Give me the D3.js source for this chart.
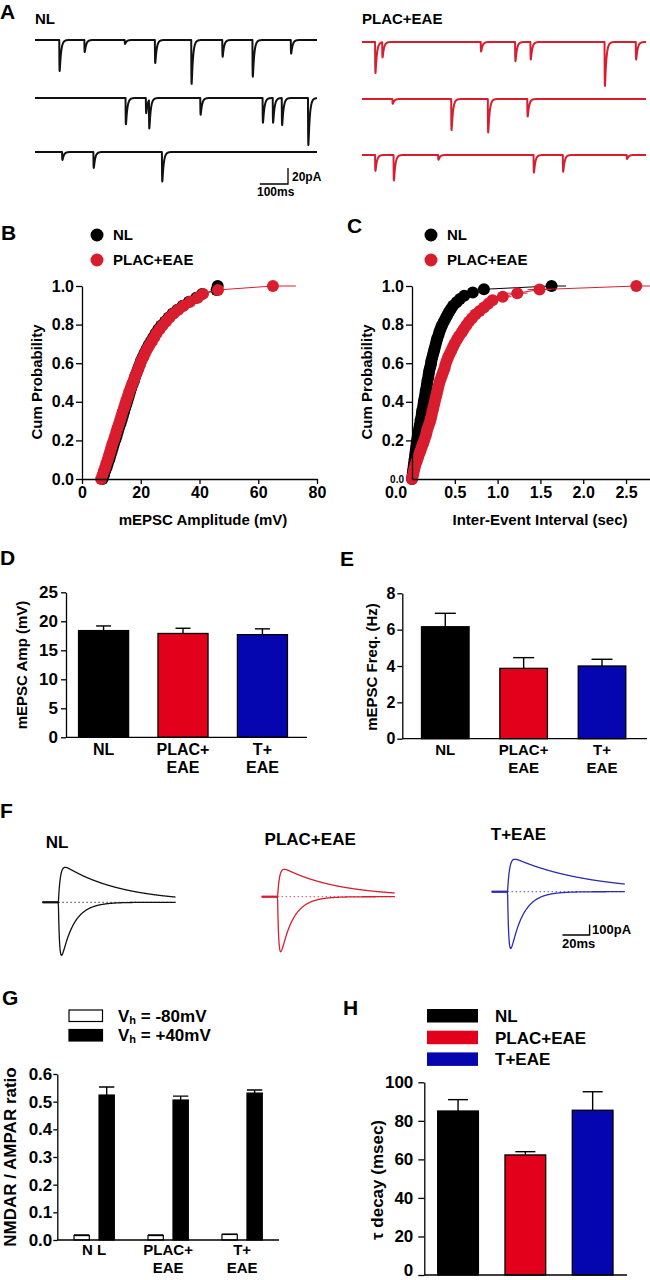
<!DOCTYPE html>
<html>
<head>
<meta charset="utf-8">
<script src="https://cdn.jsdelivr.net/npm/d3@7/dist/d3.min.js"></script>
<style>
  body { margin: 0; background: #fff; }
  text { font-family: "Liberation Sans", Arial, sans-serif; font-weight: bold; fill: #000; }
  .axis path, .axis line { stroke: #000; stroke-width: 1.3; }
  .axis text { font-family: "Liberation Sans", Arial, sans-serif; font-weight: bold; fill: #000; }
</style>
</head>
<body>
<script>
// ---------- data ----------
// A: mEPSC events in each sweep, [time (ms), amplitude (pA)]
const nlSweeps = [
  [[86, 39], [175, 15], [318, 5], [425, 29], [554, 55], [664, 21], [771, 46], [907, 17]],
  [[321, 33], [393, 19], [404, 36], [586, 21], [807, 31], [843, 31], [875, 34], [968, 59]],
  [[96, 10], [207, 20], [450, 37]]
];
const placSweeps = [
  [[46, 39], [71, 19], [418, 12], [539, 24], [593, 22], [854, 55], [964, 22]],
  [[107, 6], [314, 39], [443, 42], [582, 22]],
  [[46, 20], [111, 32], [268, 6], [604, 22], [707, 21], [932, 5]]
];

// B: sorted mEPSC amplitudes (mV)
const ampNL = [7.0, 7.5, 7.9, 8.4, 8.8, 9.3, 9.7, 10.1, 10.5, 10.9,
  11.4, 11.8, 12.2, 12.6, 13.1, 13.5, 13.9, 14.3, 14.7, 15.1,
  15.5, 15.9, 16.3, 16.7, 17.2, 17.7, 18.1, 18.6, 19.1, 19.6,
  20.1, 20.7, 21.3, 22.0, 22.7, 23.5, 24.3, 25.1, 26.0, 27.0,
  28.3, 29.5, 30.9, 32.5, 34.3, 36.4, 38.9, 40.9, 45.8, 46.2];
const ampPLAC = [6.5, 7.0, 7.4, 7.9, 8.3, 8.8, 9.2, 9.6, 10.0, 10.4,
  10.9, 11.3, 11.7, 12.1, 12.6, 13.0, 13.4, 13.8, 14.3, 14.7,
  15.1, 15.6, 16.0, 16.5, 17.0, 17.6, 18.1, 18.6, 19.2, 19.7,
  20.2, 20.9, 21.5, 22.2, 23.0, 23.8, 24.6, 25.4, 26.4, 27.4,
  28.6, 29.8, 31.2, 32.8, 34.6, 36.8, 39.4, 41.2, 46.3, 65.0];
const ampTailEnd = [47, 72.8];

// C: sorted inter-event intervals (sec)
const iviNL = [0.00, 0.005, 0.01, 0.015, 0.02, 0.025, 0.03, 0.035, 0.04, 0.045,
  0.05, 0.055, 0.06, 0.067, 0.074, 0.081, 0.088, 0.095, 0.10, 0.11,
  0.115, 0.12, 0.13, 0.135, 0.14, 0.15, 0.155, 0.16, 0.17, 0.175,
  0.18, 0.19, 0.195, 0.20, 0.21, 0.22, 0.225, 0.235, 0.245, 0.255,
  0.265, 0.275, 0.285, 0.295, 0.31, 0.32, 0.335, 0.35, 0.37, 0.39,
  0.41, 0.43, 0.455, 0.48, 0.52, 0.56, 0.61, 0.71, 0.84, 1.63];
const iviPLAC = [0.00, 0.01, 0.02, 0.03, 0.04, 0.055, 0.07, 0.085, 0.10, 0.115,
  0.13, 0.145, 0.16, 0.17, 0.18, 0.195, 0.21, 0.22, 0.23, 0.24,
  0.25, 0.26, 0.27, 0.28, 0.29, 0.30, 0.31, 0.32, 0.335, 0.35,
  0.365, 0.38, 0.39, 0.405, 0.42, 0.44, 0.46, 0.48, 0.50, 0.525,
  0.55, 0.58, 0.605, 0.635, 0.665, 0.70, 0.74, 0.79, 0.84, 0.89,
  0.94, 1.06, 1.23, 1.49, 2.62];
// horizontal SEM on some PLAC+EAE points, [index, sem (sec)]
const iviPlacErr = [[38, 0.03], [40, 0.04], [41, 0.04], [42, 0.05], [43, 0.05], [44, 0.05],
  [45, 0.06], [46, 0.06], [47, 0.06], [48, 0.07], [49, 0.07], [50, 0.08], [51, 0.1], [52, 0.12], [53, 0.14]];
const iviTailEnd = [1.8, 2.9];

// D, E, H: group means and SEM
const groups = ["NL", "PLAC+EAE", "T+EAE"];
const groupLabels = [["NL"], ["PLAC+", "EAE"], ["T+", "EAE"]];
const ampMean = [18.4, 17.9, 17.7];
const ampSem = [0.8, 0.9, 1.0];
const freqMean = [6.16, 3.87, 4.0];
const freqSem = [0.74, 0.59, 0.37];
const tauMean = [85.1, 62.3, 85.5];
const tauSem = [5.9, 1.7, 9.6];

// F: evoked currents (pA, ms)
const nmdaPeak = [333, 261, 309];
const ampaPeak = [505, 524, 540];
const nmdaTau = [42, 40, 55];
const ampaTau = [9, 9, 9];

// G: NMDAR / AMPAR ratio
const ratioLabels = [["N L"], ["PLAC+", "EAE"], ["T+", "EAE"]];
const ratioNeg80 = [0.016, 0.016, 0.020];
const ratioNeg80Sem = [0.002, 0.002, 0.001];
const ratioPos40 = [0.524, 0.506, 0.531];
const ratioPos40Sem = [0.029, 0.014, 0.011];

// ---------- drawing ----------
const groupColor = ["#000000", "#e2001a", "#0606b0"];
const traceColor = ["#111111", "#d81e2e", "#2b2bb5"];

const svg = d3.select("body").append("svg")
  .attr("width", 650).attr("height", 1280);

function label(txt, x, y, size, anchor) {
  return svg.append("text").attr("x", x).attr("y", y)
    .attr("font-size", size).attr("text-anchor", anchor || "start").text(txt);
}

// panel letters
[["A", 0, 19], ["B", 1, 240], ["C", 347, 233], ["D", 0, 565], ["E", 340, 566],
 ["F", 0, 818], ["G", 2, 1005], ["H", 343, 1015]].forEach(d => label(d[0], d[1], d[2], 21));

function psc(s, rise, decay) {
  return s < 0 ? 0 : (1 - Math.exp(-s / rise)) * Math.exp(-s / decay);
}
function pscPeak(rise, decay) {
  return psc(rise * Math.log(1 + decay / rise), rise, decay);
}

// ---- A: raw traces ----
label("NL", 35, 24, 15);
label("PLAC+EAE", 362, 24, 15);
const aAmp = d3.scaleLinear().domain([0, 20]).range([0, 16]);
const mPeak = pscPeak(0.6, 5);
function sweepLine(events, tScale, base, color) {
  const pts = d3.range(0, 1000.5, 0.5).map(t => {
    let v = 0;
    events.forEach(e => { v += e[1] * psc(t - e[0], 0.6, 5) / mPeak; });
    return [t, v];
  });
  svg.append("path").datum(pts)
    .attr("fill", "none").attr("stroke", color).attr("stroke-width", 2)
    .attr("stroke-linejoin", "round")
    .attr("d", d3.line().x(d => tScale(d[0])).y(d => base + aAmp(d[1])));
}
const tNL = d3.scaleLinear().domain([0, 1000]).range([35, 317]);
const tPL = d3.scaleLinear().domain([0, 1000]).range([362, 646]);
[40, 98, 152].forEach((b, i) => sweepLine(nlSweeps[i], tNL, b, traceColor[0]));
[42, 99, 155].forEach((b, i) => sweepLine(placSweeps[i], tPL, b, traceColor[1]));
// scale bar
{
  const xe = 288, ye = 184;
  const len = tNL(100) - tNL(0);
  svg.append("path").attr("fill", "none").attr("stroke", "#000").attr("stroke-width", 1.3)
    .attr("d", `M${xe - len},${ye}H${xe}V${ye - aAmp(20)}`);
  label("20pA", 292, 181, 12);
  label("100ms", 257, 196, 12);
}

// ---- B, C: cumulative plots ----
function cumPanel(o) {
  const x = d3.scaleLinear().domain(o.xDomain).range(o.xRange);
  const y = d3.scaleLinear().domain([0, 1]).range([479, 286]);
  const clipId = "clip" + o.id;
  svg.append("clipPath").attr("id", clipId).append("rect")
    .attr("x", o.xRange[0] - 10).attr("y", 270).attr("width", o.xRange[1] - o.xRange[0] + 10).attr("height", 215);
  const g = svg.append("g").attr("clip-path", `url(#${clipId})`);
  o.series.forEach((vals, k) => {
    const n = vals.length;
    const pts = vals.map((v, i) => ({ v: v, p: i / (n - 1) }));
    const linePts = pts.concat([{ v: o.tails[k], p: 1 }]);
    g.append("path").datum(linePts).attr("fill", "none")
      .attr("stroke", o.colors[k]).attr("stroke-width", 1)
      .attr("d", d3.line().x(d => x(d.v)).y(d => y(d.p)));
    if (o.errs && o.errs[k]) {
      g.selectAll(null).data(o.errs[k]).enter().append("line")
        .attr("x1", d => x(pts[d[0]].v - d[1])).attr("x2", d => x(pts[d[0]].v + d[1]))
        .attr("y1", d => y(pts[d[0]].p)).attr("y2", d => y(pts[d[0]].p))
        .attr("stroke", o.colors[k]).attr("stroke-width", 1);
    }
    g.selectAll(null).data(pts).enter().append("circle")
      .attr("cx", d => x(d.v)).attr("cy", d => y(d.p)).attr("r", 6)
      .attr("fill", o.colors[k]);
  });
  const xa = svg.append("g").attr("class", "axis").attr("transform", "translate(0,479)")
    .call(d3.axisBottom(x).tickValues(o.xTicks).tickFormat(o.xFmt).tickSize(5).tickSizeOuter(0).tickPadding(3));
  xa.selectAll("text").attr("font-size", 16);
  const ya = svg.append("g").attr("class", "axis").attr("transform", `translate(${o.xRange[0]},0)`)
    .call(d3.axisLeft(y).tickValues(o.yTicks).tickFormat(d3.format(".1f")).tickSize(6).tickSizeOuter(0).tickPadding(2));
  ya.selectAll("text").attr("font-size", 16);
  svg.append("text").attr("font-size", 15).attr("text-anchor", "middle")
    .attr("transform", `translate(${o.yTitleX},382) rotate(-90)`).text("Cum Probability");
  label(o.xTitle, o.xTitleX, 525, 15, "middle");
  // legend
  ["NL", "PLAC+EAE"].forEach((t, k) => {
    svg.append("circle").attr("cx", o.legX).attr("cy", 235 + 25 * k).attr("r", 6.5).attr("fill", o.colors[k]);
    label(t, o.legX + 16, 240 + 25 * k, 15);
  });
  return { x, y };
}

cumPanel({
  id: "B", series: [ampNL, ampPLAC], tails: ampTailEnd, colors: ["#000", "#d81e2e"],
  xDomain: [0, 80], xRange: [82, 317], xTicks: [0, 20, 40, 60, 80], xFmt: d3.format("d"),
  yTicks: [0, 0.2, 0.4, 0.6, 0.8, 1.0], yTitleX: 42,
  xTitle: "mEPSC Amplitude (mV)", xTitleX: 203, legX: 97
});
const cScales = cumPanel({
  id: "C", series: [iviNL, iviPLAC], tails: iviTailEnd, colors: ["#000", "#d81e2e"],
  errs: [null, iviPlacErr],
  xDomain: [0, 2.78], xRange: [412, 650], xTicks: [0.5, 1.0, 1.5, 2.0, 2.5], xFmt: d3.format(".1f"),
  yTicks: [0.2, 0.4, 0.6, 0.8, 1.0], yTitleX: 372,
  xTitle: "Inter-Event Interval (sec)", xTitleX: 540, legX: 431
});
// extra zero labels on C
svg.append("text").attr("x", 404).attr("y", 483).attr("font-size", 10)
  .attr("font-weight", "normal").attr("text-anchor", "end").text("0.0");
label("0.0", cScales.x(0) - 16, 498, 16, "middle");

// ---- bar charts D, E, H ----
function barPanel(o) {
  const x = d3.scaleBand().domain(groups).range([o.x0, o.x1])
    .paddingInner(o.padIn).paddingOuter(o.padOut);
  const y = d3.scaleLinear().domain([0, o.yMax]).range([o.yBot, o.yTop]);
  const g = svg.append("g");
  g.selectAll(null).data(groups).enter().append("line")
    .attr("x1", d => x(d) + x.bandwidth() / 2).attr("x2", d => x(d) + x.bandwidth() / 2)
    .attr("y1", (d, i) => y(o.means[i])).attr("y2", (d, i) => y(o.means[i] + o.sems[i]))
    .attr("stroke", "#000").attr("stroke-width", 1.4);
  g.selectAll(null).data(groups).enter().append("line")
    .attr("x1", d => x(d) + x.bandwidth() / 2 - o.capW / 2).attr("x2", d => x(d) + x.bandwidth() / 2 + o.capW / 2)
    .attr("y1", (d, i) => y(o.means[i] + o.sems[i])).attr("y2", (d, i) => y(o.means[i] + o.sems[i]))
    .attr("stroke", "#000").attr("stroke-width", 1.4);
  g.selectAll(null).data(groups).enter().append("rect")
    .attr("x", d => x(d)).attr("width", x.bandwidth())
    .attr("y", (d, i) => y(o.means[i])).attr("height", (d, i) => y(0) - y(o.means[i]))
    .attr("fill", (d, i) => groupColor[i]).attr("stroke", "#000").attr("stroke-width", 1.3);
  svg.append("line").attr("x1", o.x0).attr("x2", o.axisEnd).attr("y1", y(0)).attr("y2", y(0))
    .attr("stroke", "#000").attr("stroke-width", 1.3);
  const ya = svg.append("g").attr("class", "axis").attr("transform", `translate(${o.x0},0)`)
    .call(d3.axisLeft(y).tickValues(o.ticks).tickFormat(o.fmt).tickSize(o.tickSize).tickSizeOuter(0).tickPadding(o.tickPad));
  ya.selectAll("text").attr("font-size", o.tickFont);
  svg.append("text").attr("font-size", o.titleFont).attr("text-anchor", "middle")
    .attr("transform", `translate(${o.titleX},${o.titleY}) rotate(-90)`).text(o.title);
  if (o.labelY) {
    groups.forEach((gname, i) => {
      groupLabels[i].forEach((t, j) => label(t, x(gname) + x.bandwidth() / 2, o.labelY + 18 * j, o.labelFont, "middle"));
    });
  }
  return { x, y, ya };
}

barPanel({
  x0: 66, x1: 300, axisEnd: 307, padIn: 0.37, padOut: 0.158, yTop: 592.3, yBot: 737.3, yMax: 25,
  ticks: [0, 5, 10, 15, 20, 25], fmt: d3.format("d"), tickSize: 5, tickPad: 3, tickFont: 17,
  means: ampMean, sems: ampSem, capW: 15,
  title: "mEPSC Amp (mV)", titleX: 27, titleY: 665, titleFont: 15,
  labelY: 755, labelFont: 16
});
barPanel({
  x0: 402.3, x1: 645, axisEnd: 647, padIn: 0.393, padOut: 0.245, yTop: 593.3, yBot: 738.7, yMax: 8,
  ticks: [0, 2, 4, 6, 8], fmt: d3.format("d"), tickSize: 5, tickPad: 2, tickFont: 16,
  means: freqMean, sems: freqSem, capW: 21,
  title: "mEPSC Freq. (Hz)", titleX: 377, titleY: 667, titleFont: 15,
  labelY: 755, labelFont: 15
});
const hPanel = barPanel({
  x0: 424.3, x1: 626.4, axisEnd: 627, padIn: 0.395, padOut: 0.199, yTop: 1082.3, yBot: 1275, yMax: 100,
  ticks: [0, 20, 40, 60, 80, 100], fmt: d3.format("d"), tickSize: 6, tickPad: 5, tickFont: 17,
  means: tauMean, sems: tauSem, capW: 20,
  title: "\u03c4 decay (msec)", titleX: 383, titleY: 1180, titleFont: 17,
  labelY: null
});
// the bottom "0" sits at the image edge; lift it just enough to stay inside
hPanel.ya.selectAll(".tick text").filter(d => d === 0).attr("dy", "0.05em");
// H legend
groups.forEach((gname, i) => {
  svg.append("rect").attr("x", 427).attr("y", 1009 + 21.7 * i).attr("width", 51).attr("height", 13.5)
    .attr("fill", groupColor[i]);
  label(gname, 495, 1022 + 21.7 * i, 17);
});

// ---- F: evoked currents ----
{
  const starts = [42.5, 261.7, 491.7];
  const bases = [902.3, 896.7, 891.7];
  const titleX = [45.8, 264.6, 490.8];
  const titleY = [848, 845, 840];
  const fAmp = d3.scaleLinear().domain([0, 100]).range([0, 10.5]);
  const stim = 11.7;
  groups.forEach((gname, i) => {
    label(gname, titleX[i], titleY[i], 17);
    const t = d3.scaleLinear().domain([0, 98]).range([starts[i], starts[i] + 133]);
    const nP = pscPeak(1.5, nmdaTau[i]);
    const aP = pscPeak(1.0, ampaTau[i]);
    const ts = d3.range(0, 98.01, 0.25);
    const up = ts.map(s => [s, nmdaPeak[i] * psc(s - stim, 1.5, nmdaTau[i]) / nP]);
    const down = ts.map(s => [s, -ampaPeak[i] * psc(s - stim, 1.0, ampaTau[i]) / aP]);
    const line = d3.line().x(d => t(d[0])).y(d => bases[i] - fAmp(d[1]));
    svg.append("line").attr("x1", t(stim)).attr("x2", t(98)).attr("y1", bases[i]).attr("y2", bases[i])
      .attr("stroke", traceColor[i]).attr("stroke-width", 1).attr("stroke-dasharray", "1.5,2.5").attr("opacity", 0.8);
    svg.append("line").attr("x1", t(0)).attr("x2", t(stim)).attr("y1", bases[i]).attr("y2", bases[i])
      .attr("stroke", traceColor[i]).attr("stroke-width", 2.2);
    [up, down].forEach(pts => svg.append("path").datum(pts).attr("fill", "none")
      .attr("stroke", traceColor[i]).attr("stroke-width", 1.3).attr("d", line));
  });
  const xe = 589.6, ye = 935;
  const t = d3.scaleLinear().domain([0, 98]).range([0, 133]);
  svg.append("path").attr("fill", "none").attr("stroke", "#000").attr("stroke-width", 1.4)
    .attr("d", `M${xe - t(20)},${ye}H${xe}V${ye - fAmp(100)}`);
  label("100pA", 592, 934, 13);
  label("20ms", 562, 948, 13);
}

// ---- G: NMDAR / AMPAR ratio ----
{
  const x = d3.scaleBand().domain(groups).range([57.3, 279]).paddingInner(0.455).paddingOuter(0.226);
  const xi = d3.scaleBand().domain(["neg80", "pos40"]).range([0, x.bandwidth()]).paddingInner(0.388);
  const y = d3.scaleLinear().domain([0, 0.6]).range([1240, 1074]);
  const series = [
    { key: "neg80", vals: ratioNeg80, sems: ratioNeg80Sem, fill: "#fff" },
    { key: "pos40", vals: ratioPos40, sems: ratioPos40Sem, fill: "#000" }
  ];
  series.forEach(s => {
    groups.forEach((gname, i) => {
      const cx = x(gname) + xi(s.key) + xi.bandwidth() / 2;
      const top = y(s.vals[i] + s.sems[i]);
      svg.append("path").attr("fill", "none").attr("stroke", "#000").attr("stroke-width", 1.4)
        .attr("d", `M${cx},${y(s.vals[i])}V${top}M${cx - xi.bandwidth() / 2},${top}H${cx + xi.bandwidth() / 2}`);
      svg.append("rect").attr("x", x(gname) + xi(s.key)).attr("width", xi.bandwidth())
        .attr("y", y(s.vals[i])).attr("height", y(0) - y(s.vals[i]))
        .attr("fill", s.fill).attr("stroke", "#000").attr("stroke-width", 1.2);
    });
  });
  svg.append("line").attr("x1", 57.3).attr("x2", 279).attr("y1", y(0)).attr("y2", y(0))
    .attr("stroke", "#000").attr("stroke-width", 1.3);
  const ya = svg.append("g").attr("class", "axis").attr("transform", "translate(57.3,0)")
    .call(d3.axisLeft(y).tickValues([0, 0.1, 0.2, 0.3, 0.4, 0.5, 0.6]).tickFormat(d3.format(".1f"))
      .tickSize(4).tickSizeOuter(0).tickPadding(1));
  ya.selectAll("text").attr("font-size", 17);
  svg.append("text").attr("font-size", 17).attr("text-anchor", "middle")
    .attr("transform", "translate(16,1157) rotate(-90)").text("NMDAR / AMPAR ratio");
  groups.forEach((gname, i) => {
    ratioLabels[i].forEach((t, j) => label(t, x(gname) + x.bandwidth() / 2, 1255 + 18 * j, 15, "middle"));
  });
  // legend
  const legText = [["V", "h", " = -80mV"], ["V", "h", " = +40mV"]];
  series.forEach((s, k) => {
    svg.append("rect").attr("x", 69).attr("y", 1010 + 19.5 * k).attr("width", 33.5).attr("height", 11.5)
      .attr("fill", s.fill).attr("stroke", "#000").attr("stroke-width", 1.2);
    const tx = svg.append("text").attr("x", 118).attr("y", 1022 + 19 * k).attr("font-size", 17);
    tx.append("tspan").text(legText[k][0]);
    tx.append("tspan").attr("font-size", 11).attr("dy", 2).text(legText[k][1]);
    tx.append("tspan").attr("dy", -2).text(legText[k][2]);
  });
}
</script>
</body>
</html>
